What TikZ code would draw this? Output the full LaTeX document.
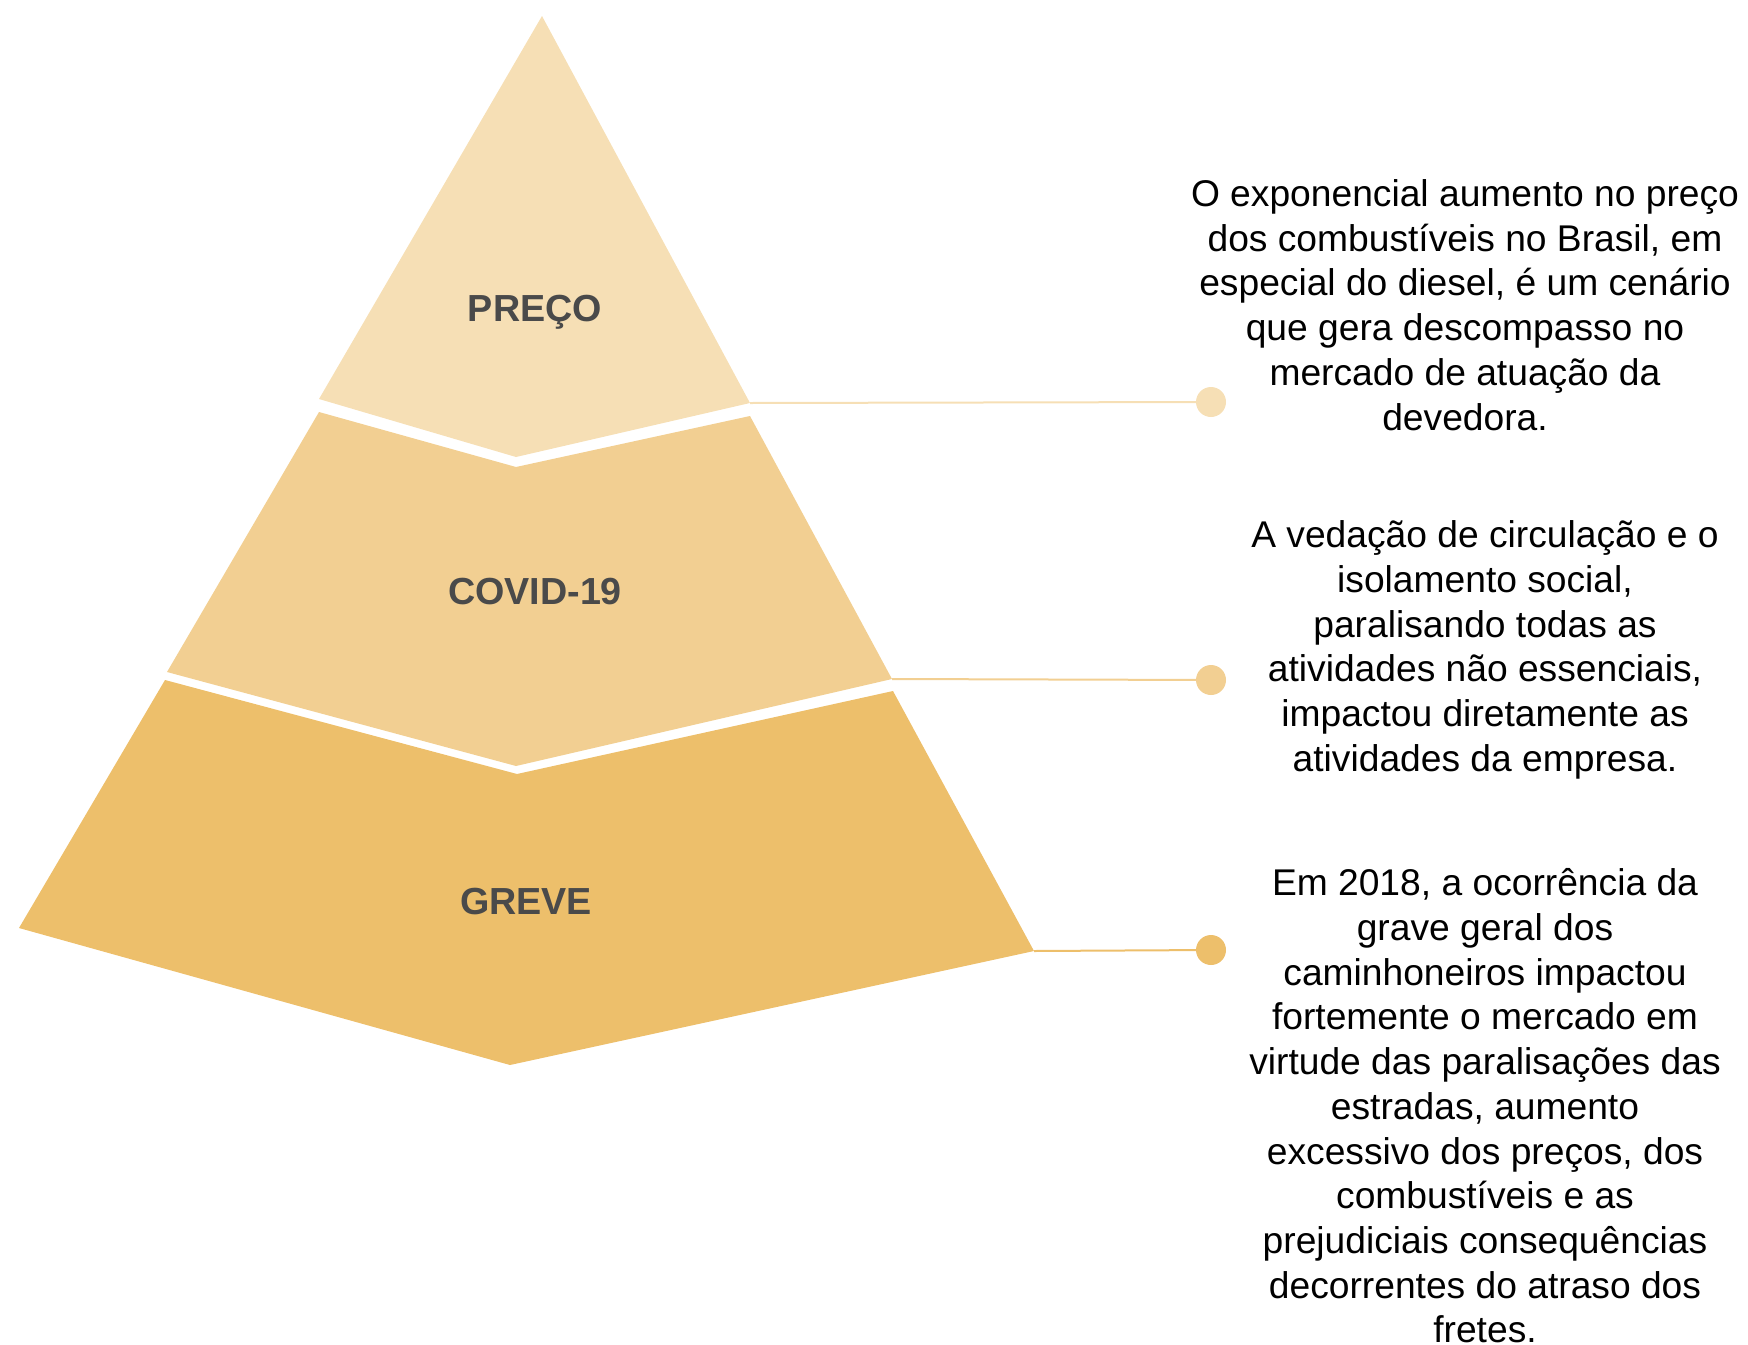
\documentclass[tikz,border=0pt]{standalone}
\usepackage{fontspec}
\setmainfont{Liberation Sans}
\definecolor{toplayer}{HTML}{F6DFB5}
\definecolor{midlayer}{HTML}{F2CF92}
\definecolor{baselayer}{HTML}{EDBF6B}
\definecolor{labelgray}{HTML}{4A4A4A}
\begin{document}
\begin{tikzpicture}[x=1pt,y=-1pt]
\tikzstyle{layer} = [font=\fontsize{37.7}{45}\selectfont\bfseries, text=labelgray]
\tikzstyle{desc} = [align=center, font=\fontsize{37.2}{44.7}\selectfont, inner sep=0pt]
\tikzstyle{dot} = [circle, minimum size=30pt, inner sep=0pt]

\useasboundingbox (0,0) rectangle (1748,1344);

% piramide
\fill[toplayer] (542,16) -- (750,403) coordinate (PR) -- (516,457) -- (319,399) -- cycle;
\fill[midlayer] (319,412) -- (516,467) -- (750,416) -- (892,679) coordinate (CR) -- (516,766) -- (167,672) -- cycle;
\fill[baselayer] (165,680) -- (517,774) -- (893,691) -- (1034,951) coordinate (GR) -- (510,1065) -- (19,928) -- cycle;

\node at (535,312) [layer] (PRECO) {PREÇO};
\node at (535,592) [layer] (COVID) {COVID-19};
\node at (526,902) [layer] (GREVE) {GREVE};

\node at (1211,402) [dot, fill=toplayer] (D1) {};
\node at (1211,680) [dot, fill=midlayer] (D2) {};
\node at (1211,950) [dot, fill=baselayer] (D3) {};

\draw[toplayer, line width=2pt] (PR) -- (D1);
\draw[midlayer, line width=2pt] (CR) -- (D2);
\draw[baselayer, line width=2pt] (GR) -- (D3);

\node at (1465,305) [desc] (T1) {O exponencial aumento no preço\\dos combustíveis no Brasil, em\\especial do diesel, é um cenário\\que gera descompasso no\\mercado de atuação da\\devedora.};

\node at (1485,650) [desc] (T2) {A vedação de circulação e o\\isolamento social,\\paralisando todas as\\atividades não essenciais,\\impactou diretamente as\\atividades da empresa.};

\node at (1485,1106) [desc] (T3) {Em 2018, a ocorrência da\\grave geral dos\\caminhoneiros impactou\\fortemente o mercado em\\virtude das paralisações das\\estradas, aumento\\excessivo dos preços, dos\\combustíveis e as\\prejudiciais consequências\\decorrentes do atraso dos\\fretes.};

\end{tikzpicture}
\end{document}
